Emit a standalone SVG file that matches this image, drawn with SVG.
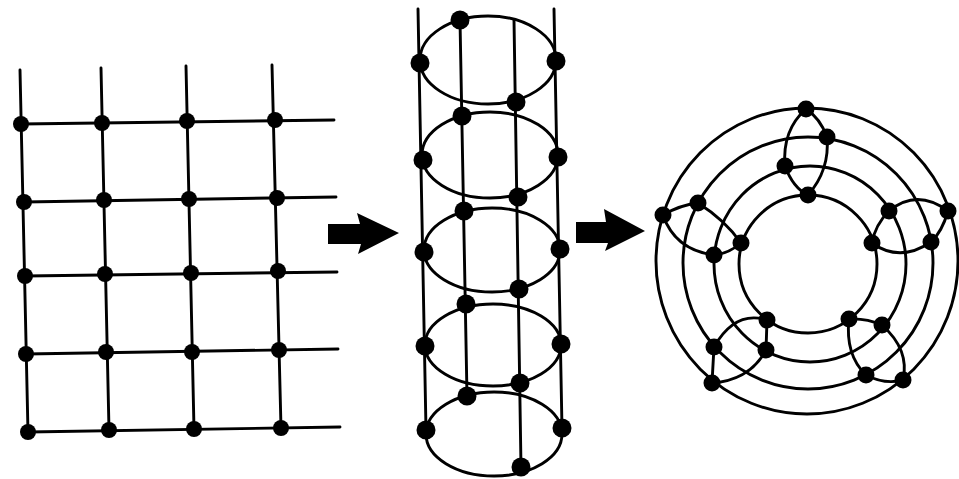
<svg xmlns="http://www.w3.org/2000/svg" width="959" height="479" viewBox="0 0 959 479">
<style>
.l{fill:none;stroke:#000;stroke-width:2.9;stroke-linecap:round}
.g{fill:#000;r:8px}
.c{fill:#000;r:9.5px}
.r{fill:#000;r:8.5px}
.a{fill:#000}
</style>
<rect width="959" height="479" fill="#fff"/>
<g id="connectors">
<path class="l" d="M20,70L28,432M101,68L109,430M186,66L194,429M272,65L281,428"/>
<path class="l" d="M21,124L334,120M24,202L336,197M25,276L337,272M26,354L338,349M28,432L340,427"/>
<path class="l" d="M418,9L426,430M460,20L467,396M514,20L521,467M554,9L562,428"/>
<ellipse class="l" cx="488" cy="60" rx="68" ry="44"/>
<ellipse class="l" cx="490" cy="155" rx="68" ry="43"/>
<ellipse class="l" cx="492" cy="250" rx="68" ry="42"/>
<ellipse class="l" cx="493" cy="345" rx="68" ry="41"/>
<ellipse class="l" cx="494" cy="434" rx="68" ry="42"/>
<ellipse class="l" cx="807" cy="261" rx="151" ry="153"/>
<ellipse class="l" cx="808" cy="263" rx="125" ry="126"/>
<ellipse class="l" cx="810" cy="264" rx="96" ry="98"/>
<ellipse class="l" cx="808" cy="264" rx="69" ry="69"/>
<path class="l" d="M806,109Q820,118 827,137Q830,170 808,195Q793,188 785,166Q782,130 806,109Z"/>
<path class="l" d="M889,211Q917,188 948,211Q942,232 931,242Q900,263 872,243Q875,225 889,211Z"/>
<path class="l" d="M663,215Q680,205 698,203Q725,220 741,243Q728,254 714,255Q675,250 663,215Z"/>
<path class="l" d="M767,320Q735,310 714,347L712,383Q750,380 766,350L767,320Z"/>
<path class="l" d="M849,319Q866,318 882,325Q910,350 903,380Q885,385 866,375Q845,355 849,319Z"/>
</g>
<path id="arrow1" class="a" d="M328,224L360,224L357,213L399,233L358,254L361,244L328,244Z"/>
<path id="arrow2" class="a" d="M576,222L606,222L604,209L645,231L605,251L608,243L576,243Z"/>
<g id="g11"><circle class="g" cx="21" cy="124"/></g><g id="g12"><circle class="g" cx="102" cy="123"/></g><g id="g13"><circle class="g" cx="187" cy="121"/></g><g id="g14"><circle class="g" cx="275" cy="120"/></g>
<g id="g21"><circle class="g" cx="24" cy="202"/></g><g id="g22"><circle class="g" cx="104" cy="200"/></g><g id="g23"><circle class="g" cx="189" cy="199"/></g><g id="g24"><circle class="g" cx="277" cy="198"/></g>
<g id="g31"><circle class="g" cx="25" cy="276"/></g><g id="g32"><circle class="g" cx="105" cy="274"/></g><g id="g33"><circle class="g" cx="191" cy="273"/></g><g id="g34"><circle class="g" cx="278" cy="271"/></g>
<g id="g41"><circle class="g" cx="26" cy="354"/></g><g id="g42"><circle class="g" cx="106" cy="352"/></g><g id="g43"><circle class="g" cx="192" cy="352"/></g><g id="g44"><circle class="g" cx="279" cy="350"/></g>
<g id="g51"><circle class="g" cx="28" cy="432"/></g><g id="g52"><circle class="g" cx="109" cy="430"/></g><g id="g53"><circle class="g" cx="194" cy="429"/></g><g id="g54"><circle class="g" cx="281" cy="428"/></g>
<g id="c11"><circle class="c" cx="460" cy="20"/></g><g id="c12"><circle class="c" cx="516" cy="102"/></g><g id="c13"><circle class="c" cx="420" cy="63"/></g><g id="c14"><circle class="c" cx="556" cy="61"/></g>
<g id="c21"><circle class="c" cx="462" cy="116"/></g><g id="c22"><circle class="c" cx="518" cy="197"/></g><g id="c23"><circle class="c" cx="423" cy="160"/></g><g id="c24"><circle class="c" cx="558" cy="157"/></g>
<g id="c31"><circle class="c" cx="464" cy="211"/></g><g id="c32"><circle class="c" cx="519" cy="289"/></g><g id="c33"><circle class="c" cx="424" cy="252"/></g><g id="c34"><circle class="c" cx="560" cy="249"/></g>
<g id="c41"><circle class="c" cx="466" cy="304"/></g><g id="c42"><circle class="c" cx="520" cy="383"/></g><g id="c43"><circle class="c" cx="425" cy="346"/></g><g id="c44"><circle class="c" cx="561" cy="344"/></g>
<g id="c51"><circle class="c" cx="467" cy="396"/></g><g id="c52"><circle class="c" cx="521" cy="467"/></g><g id="c53"><circle class="c" cx="426" cy="430"/></g><g id="c54"><circle class="c" cx="562" cy="428"/></g>
<g id="r11"><circle class="r" cx="806" cy="109"/></g><g id="r12"><circle class="r" cx="827" cy="137"/></g><g id="r13"><circle class="r" cx="785" cy="166"/></g><g id="r14"><circle class="r" cx="808" cy="195"/></g>
<g id="r21"><circle class="r" cx="889" cy="211"/></g><g id="r22"><circle class="r" cx="948" cy="211"/></g><g id="r23"><circle class="r" cx="931" cy="242"/></g><g id="r24"><circle class="r" cx="872" cy="243"/></g>
<g id="r31"><circle class="r" cx="663" cy="215"/></g><g id="r32"><circle class="r" cx="698" cy="203"/></g><g id="r33"><circle class="r" cx="714" cy="255"/></g><g id="r34"><circle class="r" cx="741" cy="243"/></g>
<g id="r41"><circle class="r" cx="767" cy="320"/></g><g id="r42"><circle class="r" cx="714" cy="347"/></g><g id="r43"><circle class="r" cx="766" cy="350"/></g><g id="r44"><circle class="r" cx="712" cy="383"/></g>
<g id="r51"><circle class="r" cx="849" cy="319"/></g><g id="r52"><circle class="r" cx="882" cy="325"/></g><g id="r53"><circle class="r" cx="866" cy="375"/></g><g id="r54"><circle class="r" cx="903" cy="380"/></g>
</svg>
